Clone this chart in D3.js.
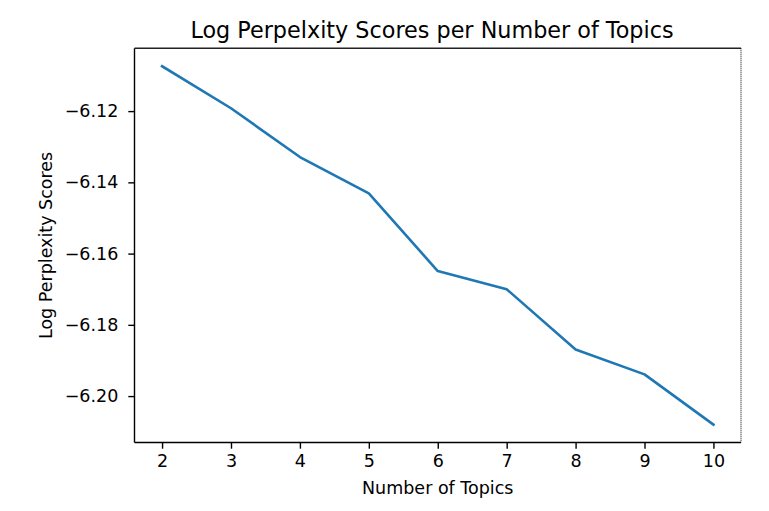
<!DOCTYPE html>
<html>
<head>
<meta charset="utf-8">
<script src="https://cdn.jsdelivr.net/npm/d3@7"></script>
<style>
  html, body { margin: 0; padding: 0; background: #fff; }
  svg { display: block; }
  text { font-family: "DejaVu Sans", sans-serif; fill: #000; }
</style>
</head>
<body>
<svg id="chart" width="769" height="511"></svg>
<script>
const topics = [2, 3, 4, 5, 6, 7, 8, 9, 10];
const logPerplexity = [-6.1074, -6.1192, -6.1329, -6.1431, -6.1649, -6.1700, -6.1869, -6.1939, -6.2080];
const xTicks = [2, 3, 4, 5, 6, 7, 8, 9, 10];
const yTicks = [-6.12, -6.14, -6.16, -6.18, -6.20];
const titleText = "Log Perpelxity Scores per Number of Topics";
const xLabel = "Number of Topics";
const yLabel = "Log Perplexity Scores";

const svg = d3.select("#chart");
const m = { left: 134.5, top: 48.3, right: 741, bottom: 442.5 };

const xMin = d3.min(topics), xMax = d3.max(topics);
const xPad = (xMax - xMin) * 0.05;
const yMin = d3.min(logPerplexity), yMax = d3.max(logPerplexity);
const yPad = (yMax - yMin) * 0.05;

const x = d3.scaleLinear().domain([xMin - xPad, xMax + xPad]).range([m.left, m.right]);
const y = d3.scaleLinear().domain([yMin - yPad, yMax + yPad]).range([m.bottom, m.top]);

const fmtY = v => d3.format(".2f")(v).replace("-", "\u2212");

// line
svg.append("path")
  .datum(topics.map((t, i) => [t, logPerplexity[i]]))
  .attr("fill", "none")
  .attr("stroke", "#1f77b4")
  .attr("stroke-width", 2.6)
  .attr("stroke-linejoin", "round")
  .attr("stroke-linecap", "square")
  .attr("d", d3.line().x(d => x(d[0])).y(d => y(d[1])));

// axes
const xAxis = d3.axisBottom(x).tickValues(xTicks).tickFormat(d3.format("d")).tickSize(6.2).tickPadding(5.5);
const gx = svg.append("g").attr("transform", `translate(0,${m.bottom})`).call(xAxis);
const yAxis = d3.axisLeft(y).tickValues(yTicks).tickFormat(fmtY).tickSize(6.2).tickPadding(10);
const gy = svg.append("g").attr("transform", `translate(${m.left},0)`).call(yAxis);

[gx, gy].forEach(g => {
  g.select(".domain").remove();
  g.selectAll(".tick line").attr("stroke", "#000").attr("stroke-width", 1.4);
  g.selectAll(".tick text").style("font-size", "17.5px").attr("fill", "#000");
});

// spines
svg.append("line").attr("x1", m.left).attr("x2", m.left).attr("y1", m.top).attr("y2", m.bottom)
  .attr("stroke", "#000").attr("stroke-width", 1.4);
svg.append("line").attr("x1", m.left).attr("x2", m.right).attr("y1", m.bottom).attr("y2", m.bottom)
  .attr("stroke", "#000").attr("stroke-width", 1.4);
svg.append("line").attr("x1", m.left).attr("x2", m.right).attr("y1", m.top).attr("y2", m.top)
  .attr("stroke", "#222").attr("stroke-width", 1.4);
svg.append("line").attr("x1", m.right).attr("x2", m.right).attr("y1", m.top).attr("y2", m.bottom)
  .attr("stroke", "#000").attr("stroke-width", 1).attr("stroke-dasharray", "1,1");

// title
svg.append("text")
  .attr("x", 432)
  .attr("y", 38)
  .attr("text-anchor", "middle")
  .style("font-size", "22.3px")
  .text(titleText);

// x label
svg.append("text")
  .attr("x", (m.left + m.right) / 2)
  .attr("y", 494)
  .attr("text-anchor", "middle")
  .style("font-size", "17.5px")
  .text(xLabel);

// y label
svg.append("text")
  .attr("transform", `translate(52,${(m.top + m.bottom) / 2}) rotate(-90)`)
  .attr("text-anchor", "middle")
  .style("font-size", "17.5px")
  .text(yLabel);
</script>
</body>
</html>
